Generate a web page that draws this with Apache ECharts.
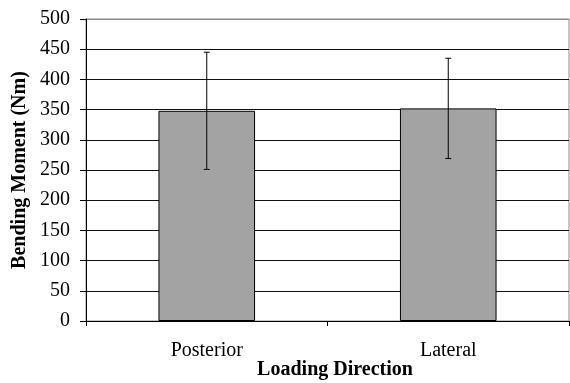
<!DOCTYPE html>
<html>
<head>
<meta charset="utf-8">
<style>
  html, body { margin: 0; padding: 0; background: #fff; overflow: hidden; }
  #chart { width: 570px; height: 383px; }
</style>
<script src="https://cdn.jsdelivr.net/npm/echarts@6/dist/echarts.min.js"></script>
</head>
<body>
<div id="chart"></div>
<script>
// Mean bending moment by loading direction, with standard deviation
const categories = ['Posterior', 'Lateral'];
const meanMoment = [348, 352];
const stdDev = [97, 83];
const yTicks = [0, 50, 100, 150, 200, 250, 300, 350, 400, 450, 500];

const serif = '"Liberation Serif", "Times New Roman", serif';
const chart = echarts.init(document.getElementById('chart'), null, { renderer: 'canvas' });

// gridline colours: the top one coincides with the grey plot frame
const gridColors = yTicks.map((v, i) => (i === yTicks.length - 1 ? '#8c8c8c' : '#111'));

const errorData = categories.map((c, i) => [i, meanMoment[i] - stdDev[i], meanMoment[i] + stdDev[i]]);

chart.setOption({
  animation: false,
  backgroundColor: '#fff',
  grid: {
    left: 86, right: 1, top: 19, bottom: 62,
    outerBoundsMode: 'none',
    containLabel: false,
    show: true, borderColor: '#8c8c8c', borderWidth: 1, backgroundColor: 'transparent'
  },
  xAxis: {
    type: 'category',
    data: categories,
    axisLine: { show: true, lineStyle: { color: '#000', width: 1 } },
    axisTick: { show: true, length: 5, lineStyle: { color: '#000' } },
    axisLabel: { color: '#000', fontFamily: serif, fontSize: 20, margin: 20 },
    name: 'Loading Direction',
    nameLocation: 'middle',
    nameMoveOverlap: false,
    nameGap: 49,
    nameTextStyle: {
      color: '#000', fontFamily: serif, fontSize: 20, fontWeight: 'bold',
      verticalAlign: 'middle', padding: [0, 0, 0, 15]
    }
  },
  yAxis: {
    type: 'value',
    min: 0, max: 500, interval: 50,
    axisLine: { show: true, lineStyle: { color: '#000', width: 1 } },
    axisTick: { show: true, length: 6, lineStyle: { color: '#000' } },
    axisLabel: { color: '#000', fontFamily: serif, fontSize: 20, margin: 16 },
    splitLine: { show: true, lineStyle: { color: gridColors, width: 1 } },
    name: 'Bending Moment (Nm)',
    nameLocation: 'middle',
    nameMoveOverlap: false,
    nameGap: 66,
    nameTextStyle: {
      color: '#000', fontFamily: serif, fontSize: 20, fontWeight: 'bold',
      verticalAlign: 'middle'
    }
  },
  series: [
    {
      type: 'bar',
      data: meanMoment,
      barWidth: '40%',
      itemStyle: { color: '#a3a3a3', borderColor: '#000', borderWidth: 1 }
    },
    {
      type: 'custom',
      data: errorData,
      z: 10,
      renderItem: function (params, api) {
        const x = api.value(0);
        const lo = api.coord([x, api.value(1)]);
        const hi = api.coord([x, api.value(2)]);
        const cap = 3;
        const style = { stroke: '#000', lineWidth: 1 };
        return {
          type: 'group',
          children: [
            { type: 'line', shape: { x1: lo[0], y1: lo[1], x2: hi[0], y2: hi[1] }, style: style },
            { type: 'line', shape: { x1: lo[0] - cap, y1: lo[1], x2: lo[0] + cap, y2: lo[1] }, style: style },
            { type: 'line', shape: { x1: hi[0] - cap, y1: hi[1], x2: hi[0] + cap, y2: hi[1] }, style: style }
          ]
        };
      }
    }
  ]
});
</script>
</body>
</html>
